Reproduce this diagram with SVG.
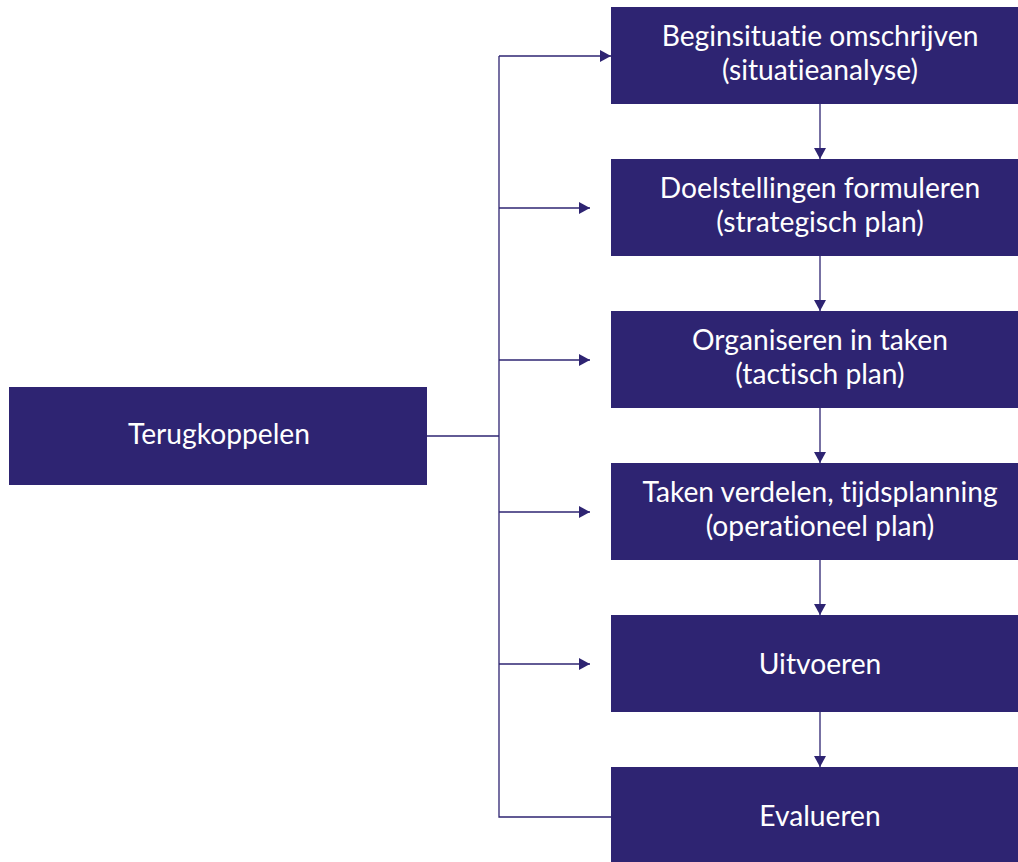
<svg xmlns="http://www.w3.org/2000/svg" width="1018" height="862" viewBox="0 0 1018 862">
<defs>
<style>
.box{fill:#2e2472;}
.t{fill:#ffffff;font-family:Lato,"Open Sans",sans-serif;font-size:28.2px;text-anchor:middle;font-variant-ligatures:none;font-feature-settings:"liga" 0;}
.ln{stroke:#2e2472;stroke-width:1.3;fill:none;}
</style>
<marker id="ah" markerWidth="12" markerHeight="12" viewBox="0 0 12 12" refX="11" refY="6" orient="auto" markerUnits="userSpaceOnUse">
<path d="M0,0 L11,6 L0,12 Z" fill="#2e2472"/>
</marker>
</defs>
<rect width="1018" height="862" fill="#ffffff"/>
<g id="connectors">
<path class="ln" d="M427,436 H499"/>
<path class="ln" d="M499,56 V817 H611"/>
<path class="ln" d="M499,56 H611" marker-end="url(#ah)"/>
<path class="ln" d="M499,208 H590" marker-end="url(#ah)"/>
<path class="ln" d="M499,360 H590" marker-end="url(#ah)"/>
<path class="ln" d="M499,512 H590" marker-end="url(#ah)"/>
<path class="ln" d="M499,664 H590" marker-end="url(#ah)"/>
<path class="ln" d="M820,104 V159" marker-end="url(#ah)"/>
<path class="ln" d="M820,256 V311" marker-end="url(#ah)"/>
<path class="ln" d="M820,408 V463" marker-end="url(#ah)"/>
<path class="ln" d="M820,560 V615" marker-end="url(#ah)"/>
<path class="ln" d="M820,712 V767" marker-end="url(#ah)"/>
</g>
<g id="terugkoppelen">
<rect class="box" x="9" y="387" width="418" height="98"/>
<text class="t" x="219" y="444">Terugkoppelen</text>
</g>
<g id="beginsituatie">
<rect class="box" x="611" y="7" width="407" height="97"/>
<text class="t" x="820" y="46">Beginsituatie omschrijven</text>
<text class="t" x="820" y="80">(situatieanalyse)</text>
</g>
<g id="doelstellingen">
<rect class="box" x="611" y="159" width="407" height="97"/>
<text class="t" x="820" y="198">Doelstellingen formuleren</text>
<text class="t" x="820" y="232">(strategisch plan)</text>
</g>
<g id="organiseren">
<rect class="box" x="611" y="311" width="407" height="97"/>
<text class="t" x="820" y="350">Organiseren in taken</text>
<text class="t" x="820" y="384">(tactisch plan)</text>
</g>
<g id="taken">
<rect class="box" x="611" y="463" width="407" height="97"/>
<text class="t" x="820" y="502">Taken verdelen, tijdsplanning</text>
<text class="t" x="820" y="536">(operationeel plan)</text>
</g>
<g id="uitvoeren">
<rect class="box" x="611" y="615" width="407" height="97"/>
<text class="t" x="820" y="674">Uitvoeren</text>
</g>
<g id="evalueren">
<rect class="box" x="611" y="767" width="407" height="95"/>
<text class="t" x="820" y="826">Evalueren</text>
</g>
</svg>
